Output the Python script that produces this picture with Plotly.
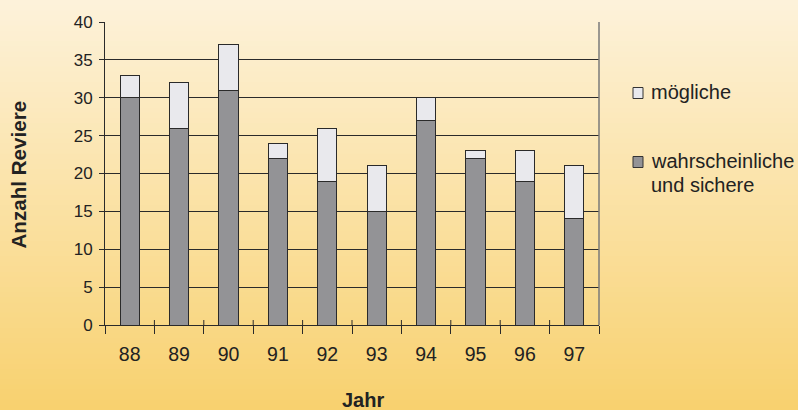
import plotly.graph_objects as go

# Jahre und Anzahl Reviere
jahre = ["88", "89", "90", "91", "92", "93", "94", "95", "96", "97"]
sicher = [30, 26, 31, 22, 19, 15, 27, 22, 19, 14]      # wahrscheinliche und sichere
moeglich = [3, 6, 6, 2, 7, 6, 3, 1, 4, 7]              # mögliche (gestapelt)

serien = [
    (["mögliche"], "#e9e9ed"),
    (["wahrscheinliche", "und sichere"], "#939396"),
]

W, H = 798, 410
L, R, T, B = 105, 199, 22, 85
plot_w = W - L - R
plot_h = H - T - B

FONT = "Liberation Sans, Arial, sans-serif"
INK = "#222222"
EDGE = "#2a2a2a"


def px_x(x):
    return (x - L) / plot_w


def px_y(y):
    return (H - B - y) / plot_h


fig = go.Figure()
fig.add_trace(go.Bar(
    x=jahre, y=sicher, name=" ".join(serien[1][0]),
    marker=dict(color=serien[1][1], line=dict(color=EDGE, width=1)),
))
fig.add_trace(go.Bar(
    x=jahre, y=moeglich, name=" ".join(serien[0][0]),
    marker=dict(color=serien[0][1], line=dict(color=EDGE, width=1)),
))

# vertical background gradient (cream to warm yellow)
top = (253, 242, 218)
bot = (248, 209, 111)
n = 80
shapes = []
for i in range(n):
    f = i / (n - 1)
    c = tuple(round(top[k] + (bot[k] - top[k]) * f) for k in range(3))
    shapes.append(dict(
        type="rect", xref="paper", yref="paper", layer="below",
        x0=px_x(-5), x1=px_x(W + 5),
        y0=px_y(H * (i + 1) / n + 1), y1=px_y(H * i / n),
        fillcolor="rgb(%d,%d,%d)" % c, line=dict(width=0),
    ))
# right border of the plot area
shapes.append(dict(type="line", xref="paper", yref="paper", x0=1, x1=1, y0=0, y1=1,
                   line=dict(color="#7a7a7a", width=1.5)))
# category separators crossing the x axis
for i in range(1, len(jahre)):
    shapes.append(dict(type="line", xref="x", yref="paper",
                       x0=i - 0.5, x1=i - 0.5, y0=0, y1=5 / plot_h,
                       line=dict(color=EDGE, width=1)))

# legend: swatches and labels
annotations = []
legend_rows = [(93, serien[0]), (162, serien[1])]
for yc, (lines, color) in legend_rows:
    shapes.append(dict(type="rect", xref="paper", yref="paper",
                       x0=px_x(633), x1=px_x(643), y0=px_y(yc + 5.5), y1=px_y(yc - 5.5),
                       fillcolor=color, line=dict(color="#333333", width=1)))
    for k, line in enumerate(lines):
        annotations.append(dict(
            text=line, xref="paper", yref="paper", x=px_x(649), y=px_y(yc - 1 + 24 * k),
            xanchor="left", yanchor="middle", align="left", showarrow=False,
            font=dict(family=FONT, size=20, color=INK),
        ))

# axis titles
annotations.append(dict(
    text="<b>Jahr</b>", xref="paper", yref="paper", x=px_x(363), y=px_y(413),
    xanchor="center", yanchor="bottom", showarrow=False,
    font=dict(family=FONT, size=20, color=INK),
))
annotations.append(dict(
    text="<b>Anzahl Reviere</b>", xref="paper", yref="paper", x=px_x(18), y=px_y(174.5),
    xanchor="center", yanchor="middle", showarrow=False, textangle=-90,
    font=dict(family=FONT, size=20.6, color=INK),
))

fig.update_layout(
    width=W, height=H,
    margin=dict(l=L, r=R, t=T, b=B, autoexpand=False),
    paper_bgcolor="rgba(0,0,0,0)", plot_bgcolor="rgba(0,0,0,0)",
    barmode="stack", bargap=0.615,
    font=dict(family=FONT, size=17, color=INK),
    shapes=shapes,
    annotations=annotations,
    showlegend=False,
    xaxis=dict(
        type="category", showline=True, linecolor=EDGE, linewidth=1,
        ticks="outside", tickson="boundaries", ticklen=8, tickcolor=EDGE,
        ticklabelstandoff=12, showgrid=False, automargin=False,
        tickfont=dict(size=19.5),
    ),
    yaxis=dict(
        range=[0, 40], dtick=5, showline=True, linecolor=EDGE, linewidth=1,
        ticks="outside", ticklen=5, tickcolor=EDGE,
        showgrid=True, gridcolor=EDGE, gridwidth=1,
        zeroline=False, ticklabelstandoff=3, automargin=False,
        tickfont=dict(size=17),
    ),
)

fig.write_html("out.html")
